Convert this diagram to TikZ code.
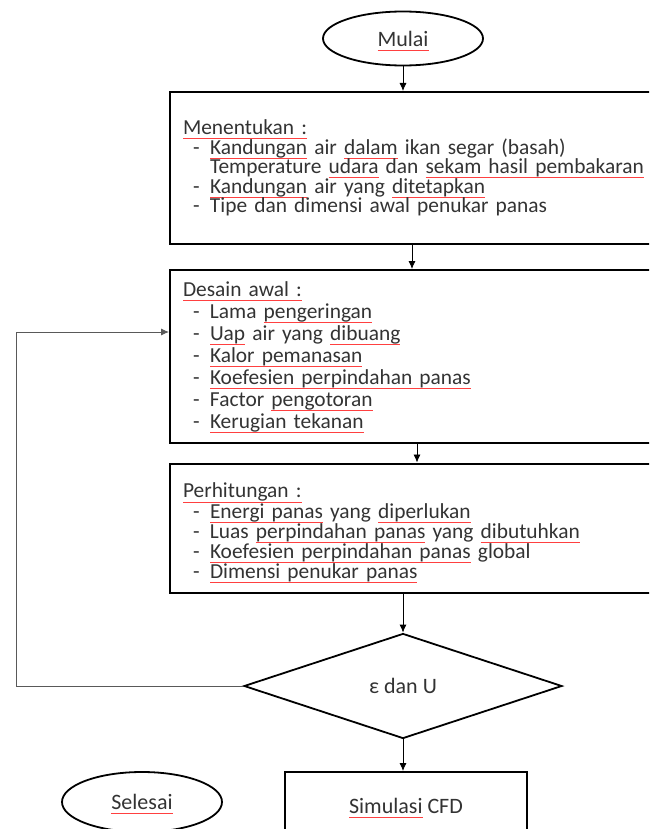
\documentclass[tikz,border=0pt]{standalone}
\usepackage{fontspec}
\setmainfont{Carlito}
\usetikzlibrary{shapes.geometric,positioning,calc,arrows.meta}

% red spell-check underline
\newcommand\sq[1]{\setbox0=\hbox{#1}\leavevmode\rlap{\color{red!75}\smash{\rule[-2.2pt]{\wd0}{0.35pt}}}\box0\relax}
\newcommand\itm{\hspace*{5pt}\makebox[8.5pt][l]{-}}

\tikzset{
  flow/.style={-{Latex[length=4pt,width=3.5pt]}, thin},
  proses/.style={draw, line width=1pt, minimum width=253pt, align=left, text width=240pt, inner sep=0pt},
  ujung/.style={ellipse, draw, line width=0.9pt, minimum width=80pt, minimum height=27pt},
}

\begin{document}
\begin{tikzpicture}[x=0.5pt,y=-0.5pt, font=\fontsize{11}{10}\selectfont, text=black!80]
\useasboundingbox (0,0) rectangle (649,829);
\clip (0,0) rectangle (649,829);
% terminal
\node[ujung] (mulai) at (403,38.5) {\sq{Mulai}};
% boxes
\node[proses, minimum height=76pt, font=\fontsize{10.7}{9.75}\selectfont] (tentu) at (423,168) {%
  \sq{Menentukan :}\\
  \itm\sq{Kandungan} air \sq{dalam} ikan segar (basah)\\
  \hspace*{13.5pt}Temperature \sq{udara} dan \sq{sekam hasil pembakaran}\\
  \itm\sq{Kandungan} air yang \sq{ditetapkan}\\
  \itm Tipe dan dimensi awal penukar panas};
\node[proses, minimum height=86.5pt, font=\fontsize{10.7}{11}\selectfont] (desain) at (423,356.5) {%
  \sq{Desain awal :}\\
  \itm Lama \sq{pengeringan}\\
  \itm\sq{Uap} air yang \sq{dibuang}\\
  \itm\sq{Kalor pemanasan}\\
  \itm\sq{Koefesien perpindahan panas}\\
  \itm Factor \sq{pengotoran}\\
  \itm\sq{Kerugian tekanan}};
\node[proses, minimum height=64.5pt, font=\fontsize{10.7}{10.1}\selectfont] (hitung) at (423,528) {%
  \rule{0pt}{12pt}\sq{Perhitungan :}\\
  \itm\sq{Energi panas} yang \sq{diperlukan}\\
  \itm Luas \sq{perpindahan panas} yang \sq{dibutuhkan}\\
  \itm\sq{Koefesien perpindahan panas} global\\
  \itm\sq{Dimensi penukar panas}};
% decision
\node[diamond, draw, line width=0.9pt, minimum width=159pt, minimum height=52.5pt, inner sep=0pt] (cek) at (403,686) {ε dan U};
\node[draw, line width=1pt, minimum width=121pt, minimum height=34pt] (cfd) at (406,806) {\sq{Simulasi} CFD};
\node[ujung, minimum height=30pt] (selesai) at (142,802) {\sq{Selesai}};
% arrows
\draw[flow] (mulai) -- (tentu.north -| mulai);
\draw[flow] ([xshift=-5.5pt]tentu.south) -- ([xshift=-5.5pt]desain.north);
\draw[flow] ([xshift=-3pt]desain.south) -- ([xshift=-3pt]hitung.north);
\draw[flow] (hitung.south -| cek) -- (cek);
\draw[flow] (cek) -- (cfd.north -| cek);
\coordinate (kiri) at (16,0);
\draw[flow, gray!70!black] (cek.west) -- (cek.west -| kiri) |- (desain.west |- 0,332);
\end{tikzpicture}
\end{document}
